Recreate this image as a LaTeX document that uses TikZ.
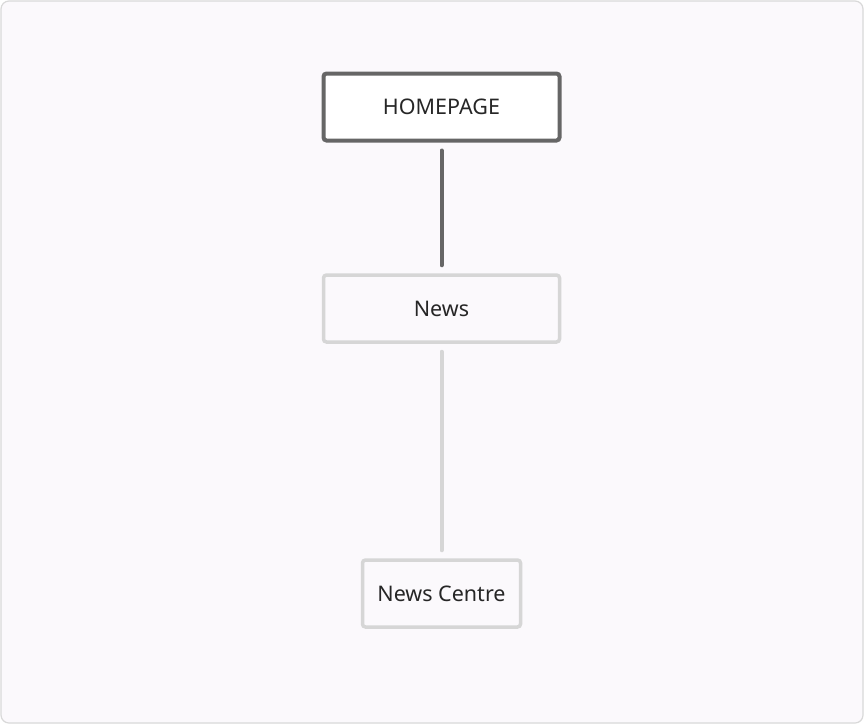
\documentclass[tikz,border=0pt]{standalone}
\usepackage{fontspec}
\setmainfont{Noto Sans}
\definecolor{bgc}{HTML}{FBF9FC}
\definecolor{frame}{HTML}{D9D9D9}
\definecolor{dark}{HTML}{666666}
\definecolor{light}{HTML}{D6D6D6}
\definecolor{txt}{HTML}{262626}
\begin{document}
\begin{tikzpicture}[x=1pt,y=-1pt,
  pagebox/.style={draw, rounded corners=3pt, minimum height=67pt, font=\fontsize{21.5pt}{25pt}\selectfont, text=txt, inner sep=0pt},
  rootbox/.style={pagebox, draw=dark, line width=4pt, fill=white, minimum width=236pt},
  childbox/.style={pagebox, draw=light, line width=3.5pt, fill=bgc},
  darklink/.style={draw=dark, line width=4pt, line cap=round, shorten >=8pt, shorten <=8pt},
  lightlink/.style={draw=light, line width=4pt, line cap=round, shorten >=8pt, shorten <=8pt}]
\useasboundingbox (0,0) rectangle (864,724);
\fill[white] (0,0) rectangle (864,724);
\draw[frame, fill=bgc, line width=1.2pt, rounded corners=8pt] (1,1) rectangle (863,723);
\node[rootbox] (home) at (441.5,107) {HOMEPAGE};
\node[childbox, minimum width=236pt] (news) at (441.5,308.5) {News};
\node[childbox, minimum width=158pt] (centre) at (441.5,593.5) {News Centre};
\draw[darklink] (home.south) -- (news.north);
\draw[lightlink] (news.south) -- (centre.north);
\end{tikzpicture}
\end{document}
